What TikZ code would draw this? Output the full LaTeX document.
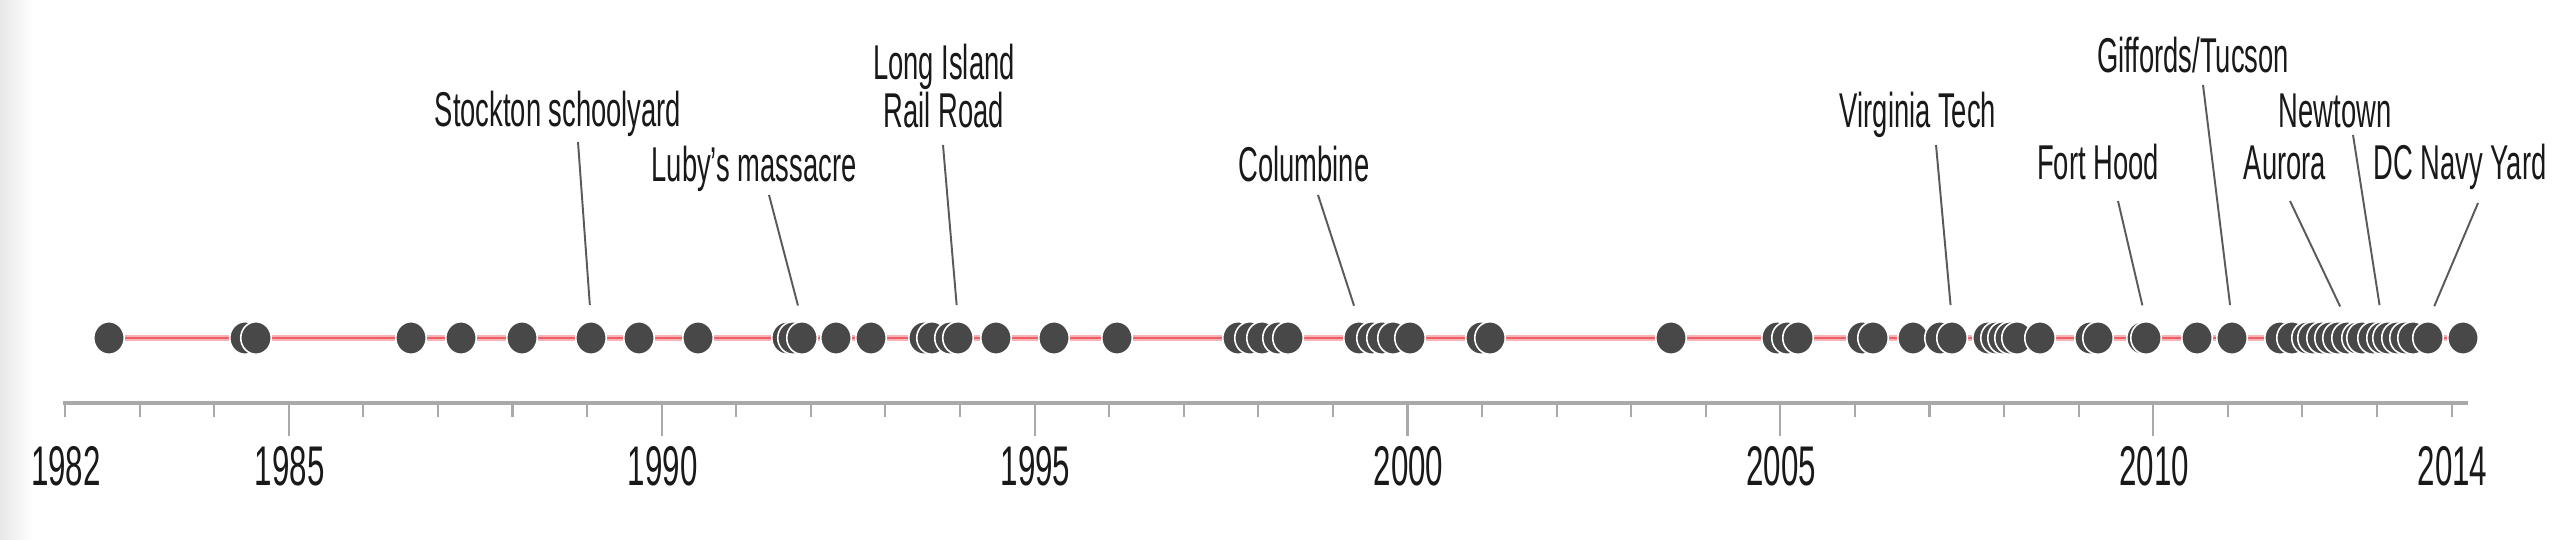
\documentclass[tikz,border=0pt]{standalone}
\usepackage{fontspec}
\setmainfont{Liberation Sans}[FakeStretch=0.56]
\usepackage{xcolor}
\usepackage{tikz}
\usetikzlibrary{shapes.geometric}
\definecolor{dotColor}{HTML}{484848}
\definecolor{lineRed}{HTML}{EF5D67}
\definecolor{linePink}{HTML}{F8B3B7}
\definecolor{axisGray}{HTML}{A9A9A9}
\definecolor{leaderGray}{HTML}{5A5A5A}

\tikzset{
    dot/.style={ellipse, fill=dotColor, draw=white, line width=0.45pt,
        minimum width=0.305cm, minimum height=0.325cm, inner sep=0pt},
    event/.style={anchor=base, inner sep=0pt, text=black!90,
        font=\fontsize{13.9}{13.8}\selectfont},
    leader/.style={leaderGray, line width=0.55pt, shorten >=0.16cm},
    year/.style={inner sep=0pt, text=black!90, font=\fontsize{15.9}{18}\selectfont},
    tick/.style={axisGray, line width=0.6pt}
}

\begin{document}
\begin{tikzpicture}[x=0.01cm, y=-0.01cm]
    \fill[white] (0,0) rectangle (2576,540);
    \shade[left color=black!9, right color=white] (0,0) rectangle (34,540);
    \useasboundingbox (0,0) rectangle (2576,540);

    % axis and ticks
    \draw[axisGray, line width=1.1pt] (63,403) -- (2468,403);
    \foreach \yr in {1982,...,2014}
        \draw[tick] ({65+(\yr-1982)*74.58},403) -- ++(0,14);
    \foreach \yr in {1985,1990,1995,2000,2005,2010}
        \draw[tick] ({65+(\yr-1982)*74.58},403) -- ++(0,33);
    \foreach \yr in {1982,1985,1990,1995,2000,2005,2010,2014}
        \node[year] (y\yr) at ({66+(\yr-1982)*74.58},466) {\yr};

    % shootings
    \foreach \x [count=\i] in {109,245,256,411,461,522,591,639,698,787,793,802,836,871,
        924,932,950,958,996,1054,1117,1238,1250,1262,1278,1288,1359,1372,1382,1393,1410,
        1481,1490,1671,1777,1787,1798,1862,1873,1913,1940,1952,1988,1996,2003,2010,2017,
        2040,2090,2098,2142,2146,2197,2232,2280,2292,2307,2313,2322,2330,2338,2347,2357,
        2362,2373,2382,2388,2397,2405,2413,2428,2463}
        \coordinate (c\i) at (\x,338);
    \draw[linePink, line width=1.5pt] (c1) -- (c72);
    \draw[lineRed, line width=0.8pt] (c1) -- (c72);
    \foreach \i in {1,...,72}
        \node[dot] (d\i) at (c\i) {};

    % labels
    \node[event] (stockton) at (558,127) {Stockton schoolyard};
    \node[event] (lubys) at (754,182) {Luby’s massacre};
    \node[event, anchor=north, align=center] (lirr) at (944,43) {Long Island\\Rail Road};
    \node[event] (columbine) at (1304,182) {Columbine};
    \node[event] (vtech) at (1918,128) {Virginia Tech};
    \node[event] (forthood) at (2098,180) {Fort Hood};
    \node[event] (giffords) at (2193,73) {Giffords/Tucson};
    \node[event] (newtown) at (2335,128) {Newtown};
    \node[event] (aurora) at (2285,180) {Aurora};
    \node[event] (navyyard) at (2460,180) {DC Navy Yard};

    \coordinate (stockton-top) at (578,142);
    \coordinate (lubys-top) at (769,195);
    \coordinate (lirr-top) at (943,145);
    \coordinate (columbine-top) at (1318,195);
    \coordinate (vtech-top) at (1936,145);
    \coordinate (forthood-top) at (2118,201);
    \coordinate (giffords-top) at (2203,85);
    \coordinate (newtown-top) at (2353,135);
    \coordinate (aurora-top) at (2290,201);
    \coordinate (navyyard-top) at (2478,203);

    \draw[leader] (stockton-top) -- (d7.north);
    \draw[leader] (lubys-top) -- (d12.north);
    \draw[leader] (lirr-top) -- (d18.north);
    \draw[leader] (columbine-top) -- (d27.north);
    \draw[leader] (vtech-top) -- (d42.north);
    \draw[leader] (forthood-top) -- (d52.north);
    \draw[leader] (giffords-top) -- (d54.north);
    \draw[leader] (newtown-top) -- (d66.north);
    \draw[leader] (aurora-top) -- (d62.north);
    \draw[leader] (navyyard-top) -- (d71.north);
\end{tikzpicture}
\end{document}
